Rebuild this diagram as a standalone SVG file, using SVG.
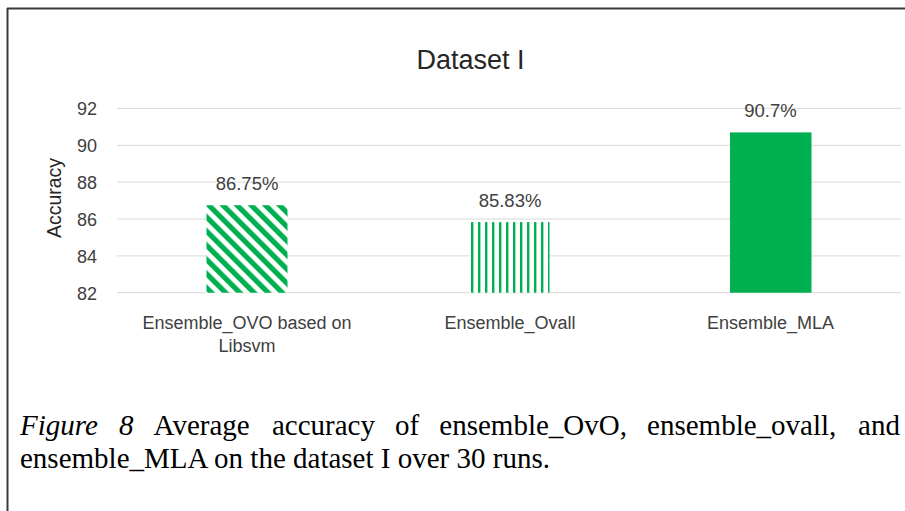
<svg xmlns="http://www.w3.org/2000/svg" width="905" height="511" viewBox="0 0 905 511">
<style>
.grid{stroke:#d9d9d9;stroke-width:1;}
.tick{font-family:"Liberation Sans",Arial,sans-serif;font-size:18px;fill:#404040;text-anchor:end;}
.lbl{font-family:"Liberation Sans",Arial,sans-serif;font-size:18.5px;fill:#404040;text-anchor:middle;}
.cat{font-family:"Liberation Sans",Arial,sans-serif;font-size:18px;fill:#404040;text-anchor:middle;}
.title{font-family:"Liberation Sans",Arial,sans-serif;font-size:27px;fill:#262626;text-anchor:middle;}
.cap{font-family:"Liberation Serif","Times New Roman",serif;font-size:29px;fill:#000;}
</style>
<defs>
<pattern id="diag" patternUnits="userSpaceOnUse" width="10" height="10" patternTransform="rotate(-45)">
<rect width="10" height="10" fill="#fff"/>
<rect width="5.2" height="10" fill="#00b050"/>
</pattern>
<pattern id="vert" patternUnits="userSpaceOnUse" x="471" y="0" width="7" height="10">
<rect width="7" height="10" fill="#fff"/>
<rect width="2.4" height="10" fill="#00b050"/>
</pattern>
</defs>
<rect width="905" height="511" fill="#fff"/>
<g id="frame" stroke="#3a3a3a" stroke-width="2" fill="none">
<line x1="7" y1="8.5" x2="905" y2="8.5"/>
<line x1="7.5" y1="8" x2="7.5" y2="511"/>
</g>
<g id="title"><text class="title" x="470.5" y="69">Dataset I</text></g>
<g id="gridlines">
<line class="grid" x1="117" y1="108.4" x2="901" y2="108.4"/>
<line class="grid" x1="117" y1="145.3" x2="901" y2="145.3"/>
<line class="grid" x1="117" y1="182.1" x2="901" y2="182.1"/>
<line class="grid" x1="117" y1="219" x2="901" y2="219"/>
<line class="grid" x1="117" y1="255.9" x2="901" y2="255.9"/>
<line class="grid" x1="117" y1="292.7" x2="901" y2="292.7"/>
</g>
<g id="yaxis">
<text class="tick" x="97" y="115">92</text>
<text class="tick" x="97" y="152">90</text>
<text class="tick" x="97" y="189">88</text>
<text class="tick" x="97" y="225.5">86</text>
<text class="tick" x="97" y="262.5">84</text>
<text class="tick" x="97" y="299.5">82</text>
<text x="60.5" y="198" transform="rotate(-90 60.5 198)" font-family="Liberation Sans, Arial, sans-serif" font-size="19.5" fill="#262626" text-anchor="middle">Accuracy</text>
</g>
<g id="bar-ovo">
<rect x="206.5" y="205.2" width="81" height="87.5" fill="url(#diag)"/>
<text class="lbl" x="247" y="190">86.75%</text>
<text class="cat" x="247" y="329">Ensemble_OVO based on</text>
<text class="cat" x="247" y="352">Libsvm</text>
</g>
<g id="bar-ovall">
<rect x="469.5" y="222.1" width="80" height="70.6" fill="url(#vert)"/>
<text class="lbl" x="510" y="206.5">85.83%</text>
<text class="cat" x="510" y="329">Ensemble_Ovall</text>
</g>
<g id="bar-mla">
<rect x="730" y="132.4" width="81.5" height="160.3" fill="#00b050"/>
<text class="lbl" x="770.5" y="116.5">90.7%</text>
<text class="cat" x="770.5" y="329">Ensemble_MLA</text>
</g>
<g id="caption">
<text class="cap" y="435"><tspan x="20" font-style="italic">Figure</tspan><tspan x="119" font-style="italic">8</tspan><tspan x="153.6">Average</tspan><tspan x="271.9">accuracy</tspan><tspan x="395">of</tspan><tspan x="439.3">ensemble_OvO,</tspan><tspan x="647.1">ensemble_ovall,</tspan><tspan x="858.1">and</tspan></text>
<text class="cap" x="20" y="468">ensemble_MLA on the dataset I over 30 runs.</text>
</g>
</svg>
